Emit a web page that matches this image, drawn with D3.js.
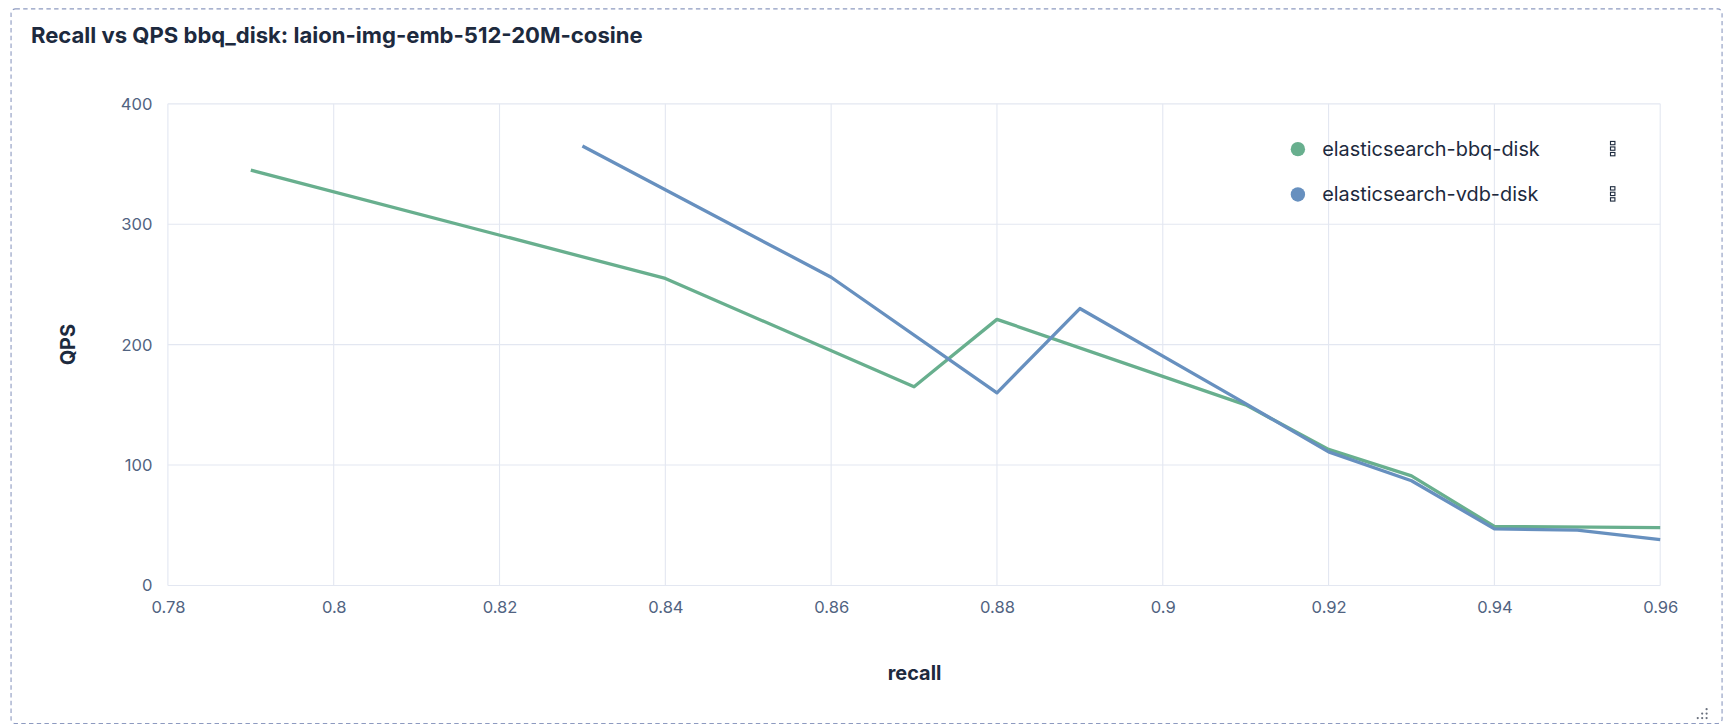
<!DOCTYPE html><html><head><meta charset="utf-8">
<script src="https://cdn.jsdelivr.net/npm/d3@7"></script>
<style>body{margin:0;background:#fff}svg{display:block;font-family:Inter,"Noto Sans",sans-serif}</style></head><body>
<svg id="c" width="1732" height="728" viewBox="0 0 1568 659"></svg>
<script>
const seriesNames=["elasticsearch-bbq-disk","elasticsearch-vdb-disk"];
const colors=["#68AF8E","#6790BF"];
const bbqRecall=[0.79,0.84,0.87,0.88,0.91,0.92,0.93,0.94,0.96];
const bbqQps=[345,255,165,221,150,113,91,49,48];
const vdbRecall=[0.83,0.86,0.88,0.89,0.91,0.92,0.93,0.94,0.95,0.96];
const vdbQps=[365,256,160,230,151,111,87,47,46,38];
const xTicks=[0.78,0.8,0.82,0.84,0.86,0.88,0.9,0.92,0.94,0.96];
const yTicks=[0,100,200,300,400];

const svg=d3.select("#c");
svg.append("rect").attr("x",10).attr("y",8).attr("width",1549).attr("height",647).attr("rx",4)
 .attr("fill","#fff").attr("stroke","#8d9ac0").attr("stroke-dasharray","4,3");
svg.append("text").attr("x",28).attr("y",39).attr("font-size",20).attr("font-weight",700).attr("fill","#1d2a3e")
 .text("Recall vs QPS bbq_disk: laion-img-emb-512-20M-cosine");
const x=d3.scaleLinear().domain([0.78,0.96]).range([152,1503]);
const y=d3.scaleLinear().domain([0,400]).range([530,94]);
const g=svg.append("g");
g.selectAll(".vg").data(xTicks).join("line").attr("x1",d=>x(d)).attr("x2",d=>x(d)).attr("y1",94).attr("y2",530).attr("stroke","#e3e7f1");
g.selectAll(".hg").data(yTicks).join("line").attr("x1",152).attr("x2",1503).attr("y1",d=>y(d)).attr("y2",d=>y(d)).attr("stroke","#e3e7f1");
const xa=svg.append("g").attr("transform","translate(0,530)").call(d3.axisBottom(x).tickValues(xTicks).tickSize(0).tickPadding(14).tickFormat(d=>d3.format("~g")(d)));
const ya=svg.append("g").attr("transform","translate(152,0)").call(d3.axisLeft(y).tickValues(yTicks).tickSize(0).tickPadding(14));
[xa,ya].forEach(a=>{a.select(".domain").remove();a.selectAll("text").attr("font-size",15).attr("fill","#516381").attr("font-family","Inter,sans-serif");});
svg.append("text").attr("transform","translate(68,312) rotate(-90)").attr("text-anchor","middle").attr("font-size",18).attr("font-weight",700).attr("fill","#1d2a3e").text("QPS");
svg.append("text").attr("x",828).attr("y",616).attr("text-anchor","middle").attr("font-size",18).attr("font-weight",700).attr("fill","#1d2a3e").text("recall");
const line=d3.line().x(d=>x(d[0])).y(d=>y(d[1]));
[[bbqRecall,bbqQps],[vdbRecall,vdbQps]].forEach((s,i)=>{
 svg.append("path").datum(d3.zip(s[0],s[1])).attr("d",line).attr("fill","none").attr("stroke",colors[i]).attr("stroke-width",3).attr("stroke-linejoin","round");
});
seriesNames.forEach((n,i)=>{
 const yy=135+i*41;
 svg.append("circle").attr("cx",1175).attr("cy",yy).attr("r",6.5).attr("fill",colors[i]);
 svg.append("text").attr("x",1197).attr("y",yy+6).attr("font-size",18).attr("fill","#1d2a3e").text(n);
 for(let k=0;k<3;k++) svg.append("rect").attr("x",1458).attr("y",yy-7+k*5).attr("width",4).attr("height",3).attr("fill","none").attr("stroke","#1d2a3e").attr("stroke-width",1);
});
[[1545,642],[1541,646],[1545,646],[1537,650],[1541,650],[1545,650]].forEach(p=>svg.append("circle").attr("cx",p[0]).attr("cy",p[1]).attr("r",1).attr("fill","#69707d"));
</script></body></html>
